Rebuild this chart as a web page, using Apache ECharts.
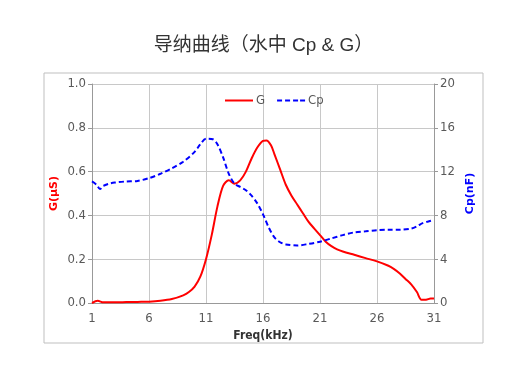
<!DOCTYPE html>
<html><head><meta charset="utf-8">
<script src="https://cdn.jsdelivr.net/npm/echarts@6/dist/echarts.min.js"></script>
<style>html,body{margin:0;padding:0;background:#fff}#c{width:527px;height:367px}</style>
</head><body><div id="c"></div>
<script>
const titleText = '导纳曲线（水中 Cp & G）';
const xTicks = [1, 6, 11, 16, 21, 26, 31];
const gFreq = [1,1.5,2,3,4,5,6,7,8,9,9.5,10,10.5,11,11.5,12,12.5,13,13.5,14,14.5,15,15.5,16,16.3,16.7,17,17.5,18,18.5,19,19.5,20,20.5,21,21.5,22,22.5,23,24,25,26,27,27.5,28,28.5,29,29.5,29.9,30.3,30.7,31];
const gValues = [0.0,0.01,0.003,0.003,0.004,0.005,0.006,0.01,0.018,0.035,0.05,0.075,0.12,0.2,0.31,0.44,0.535,0.56,0.545,0.56,0.6,0.66,0.71,0.74,0.742,0.72,0.68,0.61,0.54,0.49,0.45,0.41,0.37,0.34,0.31,0.28,0.26,0.245,0.235,0.22,0.205,0.19,0.17,0.155,0.135,0.11,0.085,0.05,0.015,0.015,0.02,0.02];
const cpFreq = [1,1.4,1.7,2,2.5,3,4,5,6,7,8,9,10,10.5,11,11.6,12,12.5,13,13.5,14,14.5,15,15.5,16,16.5,17,17.5,18,19,20,21,22,23,24,25,26,27,28,29,29.5,30,30.5,31];
const cpValues = [11.1,10.8,10.4,10.7,10.9,11.0,11.1,11.15,11.4,11.8,12.3,12.9,13.8,14.5,15.0,14.95,14.5,13.3,11.8,10.9,10.6,10.3,9.8,9.1,8.1,6.9,6.0,5.55,5.35,5.25,5.4,5.6,5.9,6.2,6.45,6.55,6.65,6.7,6.7,6.8,7.0,7.3,7.45,7.6];

const FONT = "'DejaVu Sans Condensed','Liberation Sans Narrow','Liberation Sans',sans-serif";
const x0 = xTicks[0];
const gData = gFreq.map((f, i) => [f - x0, gValues[i]]);
const cpData = cpFreq.map((f, i) => [f - x0, cpValues[i]]);

const chart = echarts.init(document.getElementById('c'));
chart.setOption({
  animation: false,
  title: {text: titleText, left: 'center', top: 31,
    textStyle: {fontFamily: "'Liberation Sans','Noto Sans CJK SC',sans-serif", fontSize: 19, fontWeight: 'normal', color: '#333'}},
  graphic: [{type: 'rect', shape: {x: 44, y: 73, width: 439, height: 270},
    style: {fill: 'none', stroke: '#bfbfbf', lineWidth: 1}, silent: true}],
  legend: {top: 89, left: 220, itemWidth: 28, itemHeight: 10, itemGap: 12,
    textStyle: {fontFamily: FONT, fontSize: 13, color: '#595959', padding: [0, 0, 0, -2]},
    data: [{name: 'G', icon: 'path://M0,4h28v2h-28z'}, {name: 'Cp', icon: 'path://M0,4h5v2h-5zM8,4h5v2h-5zM16,4h5v2h-5zM23,4h5v2h-5z'}]},
  grid: {left: 92, right: 93, top: 84, bottom: 64},
  xAxis: {type: 'value', min: 0, max: xTicks[xTicks.length - 1] - x0, interval: 5,
    name: 'Freq(kHz)', nameLocation: 'middle', nameGap: 27, nameMoveOverlap: false,
    nameTextStyle: {fontFamily: FONT, fontSize: 12, fontWeight: 'bold', color: '#333'},
    axisLine: {lineStyle: {color: '#999'}}, axisTick: {show: false},
    axisLabel: {fontFamily: FONT, fontSize: 13, color: '#595959', margin: 9, formatter: v => String(v + x0)},
    splitLine: {show: true, lineStyle: {color: '#c8c8c8'}}},
  yAxis: [
    {type: 'value', min: 0, max: 1, interval: 0.2, position: 'left',
      name: 'G(μS)', nameLocation: 'middle', nameGap: 32, nameRotate: 90, nameMoveOverlap: false,
      nameTextStyle: {fontFamily: "'DejaVu Sans',sans-serif", fontSize: 11, fontWeight: 'bold', color: '#ff0000'},
      axisLine: {show: true, lineStyle: {color: '#999'}}, axisTick: {show: true, length: 4, lineStyle: {color: '#999'}},
      axisLabel: {fontFamily: FONT, fontSize: 13, color: '#595959', margin: 6, formatter: v => v.toFixed(1)},
      splitLine: {show: true, lineStyle: {color: '#c8c8c8'}}},
    {type: 'value', min: 0, max: 20, interval: 4, position: 'right',
      name: 'Cp(nF)', nameLocation: 'middle', nameGap: 31, nameRotate: 90, nameMoveOverlap: false,
      nameTextStyle: {fontFamily: "'DejaVu Sans',sans-serif", fontSize: 11, fontWeight: 'bold', color: '#0000ff'},
      axisLine: {show: true, lineStyle: {color: '#999'}}, axisTick: {show: true, length: 4, lineStyle: {color: '#999'}},
      axisLabel: {fontFamily: FONT, fontSize: 13, color: '#595959', margin: 6},
      splitLine: {show: false}}
  ],
  series: [
    {name: 'G', type: 'line', yAxisIndex: 0, data: gData, smooth: 0.3, showSymbol: false,
      lineStyle: {color: '#ff0000', width: 2}, itemStyle: {color: '#ff0000'}},
    {name: 'Cp', type: 'line', yAxisIndex: 1, data: cpData, smooth: 0.3, showSymbol: false,
      lineStyle: {color: '#0000ff', width: 2, type: [5, 3]}, itemStyle: {color: '#0000ff'}}
  ]
});
</script></body></html>
